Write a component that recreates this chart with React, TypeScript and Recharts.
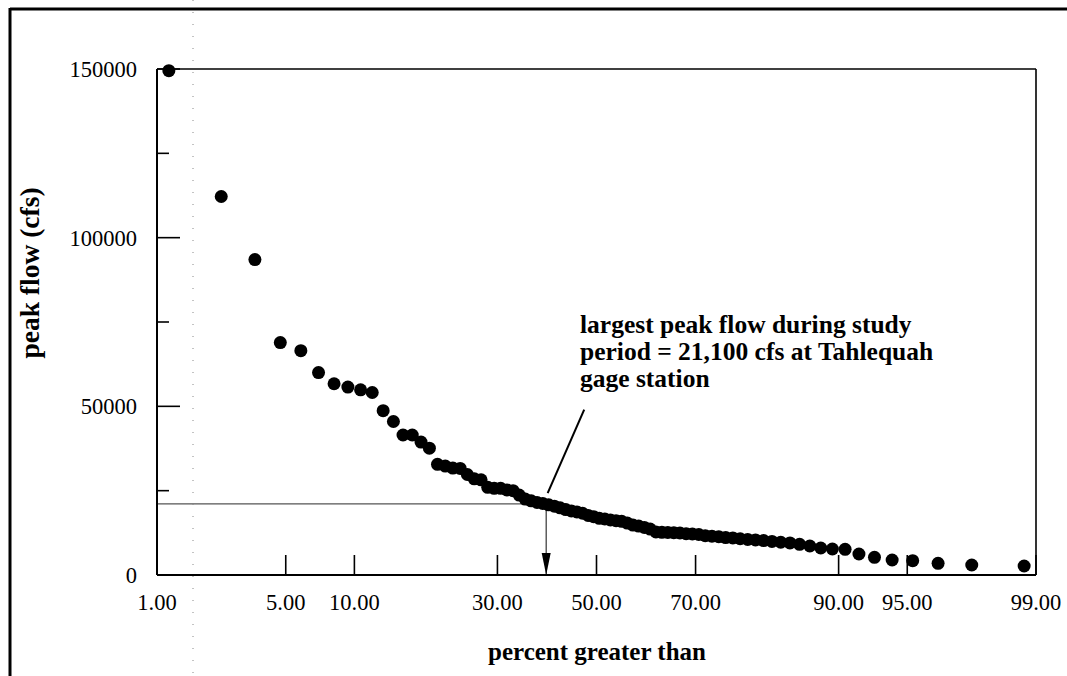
import React from 'react';
import { ScatterChart, Scatter, XAxis, YAxis, ReferenceLine } from 'recharts';

// plotting positions (percent greater than) for the 84 ranked annual peaks
const percentGreater = [
  1.18, 2.35, 3.53, 4.71, 5.88, 7.06, 8.24, 9.41, 10.59, 11.76,
  12.94, 14.12, 15.29, 16.47, 17.65, 18.82, 20.0, 21.18, 22.35, 23.53,
  24.71, 25.88, 27.06, 28.24, 29.41, 30.59, 31.76, 32.94, 34.12, 35.29,
  36.47, 37.65, 38.82, 40.0, 41.18, 42.35, 43.53, 44.71, 45.88, 47.06,
  48.24, 49.41, 50.59, 51.76, 52.94, 54.12, 55.29, 56.47, 57.65, 58.82,
  60.0, 61.18, 62.35, 63.53, 64.71, 65.88, 67.06, 68.24, 69.41, 70.59,
  71.76, 72.94, 74.12, 75.29, 76.47, 77.65, 78.82, 80.0, 81.18, 82.35,
  83.53, 84.71, 85.88, 87.06, 88.24, 89.41, 90.59, 91.76, 92.94, 94.12,
  95.29, 96.47, 97.65, 98.82,
];

const peakFlow = [
  149500, 112200, 93500, 68900, 66500, 60000, 56700, 55700, 54900, 54100,
  48700, 45500, 41500, 41500, 39400, 37600, 32800, 32300, 31700, 31600,
  29800, 28500, 28200, 26000, 25700, 25700, 25200, 25000, 23700, 22500,
  22000, 21500, 21200, 20800, 20400, 19900, 19400, 19000, 18700, 18300,
  17650, 17300, 16800, 16600, 16300, 16100, 15900, 15400, 14800, 14500,
  14100, 13600, 12750, 12650, 12600, 12550, 12450, 12250, 12150, 12000,
  11650, 11500, 11350, 11100, 11000, 10750, 10550, 10400, 10200, 9950,
  9700, 9500, 9100, 8600, 8000, 7700, 7600, 6230, 5250, 4450,
  4250, 3460, 2970, 2670,
];

const xTickPercents = [1, 5, 10, 30, 50, 70, 90, 95, 99];
const xTickLabels = ['1.00', '5.00', '10.00', '30.00', '50.00', '70.00', '90.00', '95.00', '99.00'];
const yTicks = [0, 25000, 50000, 75000, 100000, 125000, 150000];
const yMajor = [0, 50000, 100000, 150000];

const studyPeak = 21100;
const studyPeakPercent = 39.5;
const leaderFrom = { percent: 47.4, flow: 49000 };
const leaderTo = { percent: 39.8, flow: 24300 };

const FONT = '"Liberation Serif", "Times New Roman", serif';

// inverse standard normal cdf (Acklam) -> normal probability axis
function probit(p: number): number {
  const a = [-39.69683028665376, 220.9460984245205, -275.9285104469687, 138.357751867269, -30.66479806614716, 2.506628277459239];
  const b = [-54.47609879822406, 161.5858368580409, -155.6989798598866, 66.80131188771972, -13.28068155288572];
  const c = [-0.007784894002430293, -0.3223964580411365, -2.400758277161838, -2.549671348451881, 4.374664141464968, 2.938163982698783];
  const d = [0.007784695709041462, 0.3224671290700398, 2.445134137142996, 3.754408661907416];
  const lo = 0.02425;
  if (p < lo) {
    const q = Math.sqrt(-2 * Math.log(p));
    return (((((c[0] * q + c[1]) * q + c[2]) * q + c[3]) * q + c[4]) * q + c[5]) /
      ((((d[0] * q + d[1]) * q + d[2]) * q + d[3]) * q + 1);
  }
  if (p <= 1 - lo) {
    const q = p - 0.5;
    const r = q * q;
    return (((((a[0] * r + a[1]) * r + a[2]) * r + a[3]) * r + a[4]) * r + a[5]) * q /
      (((((b[0] * r + b[1]) * r + b[2]) * r + b[3]) * r + b[4]) * r + 1);
  }
  return -probit(1 - p);
}

const z = (pct: number) => probit(pct / 100);
const zMin = z(1);
const zMax = z(99);

const points = percentGreater.map((p, i) => ({ z: z(p), flow: peakFlow[i] }));
const arrowTip = [{ z: z(studyPeakPercent), flow: 0 }];

const XTick = (props: any) => {
  const { x, y, index } = props;
  return (
    <g>
      <line x1={x} y1={y} x2={x} y2={y - 20} stroke="#000" strokeWidth={1.6} />
      <text x={x} y={y + 35} textAnchor="middle" fontFamily={FONT} fontSize={22.5} fill="#000">
        {xTickLabels[index]}
      </text>
    </g>
  );
};

const YTick = (props: any) => {
  const { x, y, payload } = props;
  const major = yMajor.includes(payload.value);
  return (
    <g>
      <line x1={x} y1={y} x2={x + (major ? 23 : 12)} y2={y} stroke="#000" strokeWidth={1.6} />
      {major && (
        <text x={x - 20} y={y} dy="0.35em" textAnchor="end" fontFamily={FONT} fontSize={22.5} fill="#000">
          {payload.value}
        </text>
      )}
    </g>
  );
};

const Dot = (props: any) => <circle cx={props.cx} cy={props.cy} r={6.5} fill="#000" />;

const ArrowHead = (props: any) => {
  const { cx, cy } = props;
  return <polygon points={`${cx - 4.5},${cy - 22} ${cx + 4.5},${cy - 22} ${cx},${cy}`} fill="#000" />;
};

export default function App() {
  return (
    <div style={{ position: 'absolute', left: 0, top: 0, width: 1067, height: 676, background: '#fff' }}>
      <ScatterChart width={1067} height={676} margin={{ top: 69, right: 31, bottom: 41, left: 0 }}>
        <XAxis
          type="number"
          dataKey="z"
          domain={[zMin, zMax]}
          ticks={xTickPercents.map(z)}
          interval={0}
          tick={<XTick />}
          tickLine={false}
          tickSize={0}
          tickMargin={0}
          height={60}
          axisLine={{ stroke: '#000', strokeWidth: 2 }}
        />
        <YAxis
          type="number"
          dataKey="flow"
          domain={[0, 150000]}
          ticks={yTicks}
          interval={0}
          tick={<YTick />}
          tickLine={false}
          tickSize={0}
          tickMargin={0}
          width={157}
          axisLine={{ stroke: '#000', strokeWidth: 2 }}
        />
        <ReferenceLine y={150000} stroke="#000" strokeWidth={1.6} />
        <ReferenceLine x={zMax} stroke="#000" strokeWidth={1.6} />
        <ReferenceLine
          segment={[{ x: zMin, y: studyPeak }, { x: z(studyPeakPercent), y: studyPeak }]}
          stroke="#555"
          strokeWidth={1.2}
        />
        <ReferenceLine
          segment={[{ x: z(studyPeakPercent), y: studyPeak }, { x: z(studyPeakPercent), y: 0 }]}
          stroke="#333"
          strokeWidth={1.2}
        />
        <ReferenceLine
          segment={[
            { x: z(leaderFrom.percent), y: leaderFrom.flow },
            { x: z(leaderTo.percent), y: leaderTo.flow },
          ]}
          stroke="#000"
          strokeWidth={2}
        />
        <Scatter data={arrowTip} shape={<ArrowHead />} isAnimationActive={false} />
        <Scatter data={points} shape={<Dot />} isAnimationActive={false} />
      </ScatterChart>
      <svg
        width={1067}
        height={676}
        style={{ position: 'absolute', left: 0, top: 0, pointerEvents: 'none' }}
      >
        <line x1={10} y1={9} x2={1067} y2={9} stroke="#000" strokeWidth={3} />
        <line x1={10} y1={8} x2={10} y2={676} stroke="#000" strokeWidth={3} />
        <line x1={193} y1={0} x2={193} y2={676} stroke="#888" strokeWidth={1} strokeDasharray="1 11" />
        <text
          transform="translate(39 273) rotate(-90)"
          textAnchor="middle"
          fontFamily={FONT}
          fontWeight="bold"
          fontSize={27.5}
          fill="#000"
        >
          peak flow (cfs)
        </text>
        <text x={597} y={660} textAnchor="middle" fontFamily={FONT} fontWeight="bold" fontSize={25} fill="#000">
          percent greater than
        </text>
        <g fontFamily={FONT} fontWeight="bold" fontSize={25.5} fill="#000">
          <text x={580} y={333}>largest peak flow during study</text>
          <text x={580} y={360}>period = 21,100 cfs at Tahlequah</text>
          <text x={580} y={387}>gage station</text>
        </g>
      </svg>
    </div>
  );
}
